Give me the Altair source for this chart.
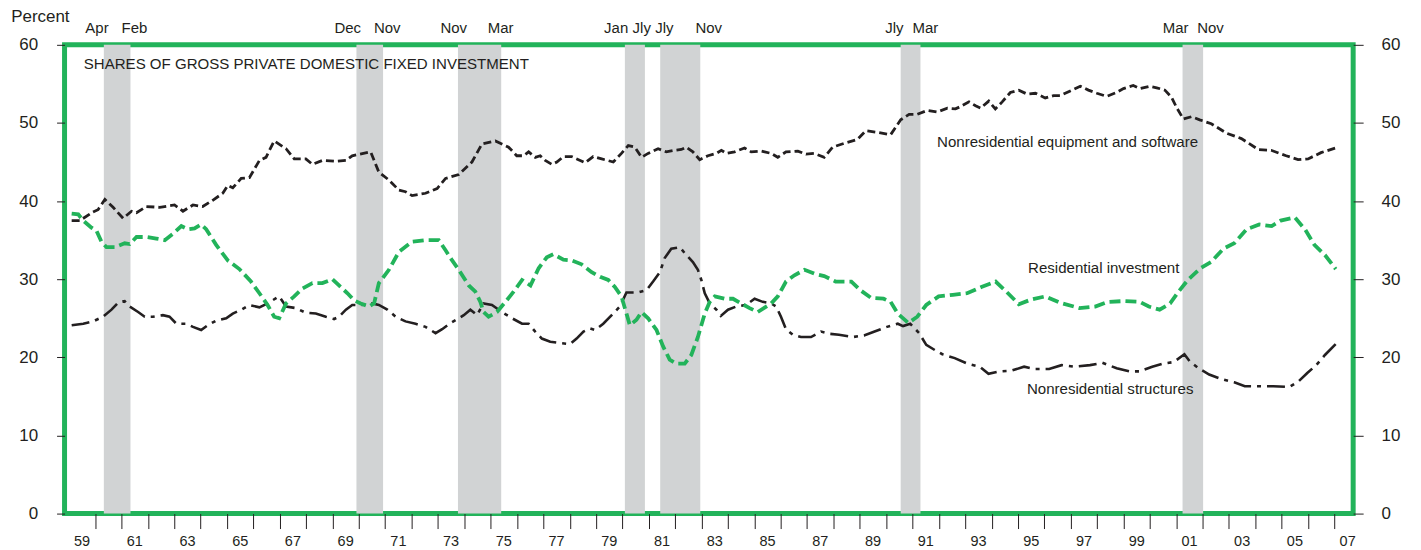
import altair as alt
import pandas as pd

# ---------------- data ----------------
eq_year = [1959.11, 1959.42, 1959.92, 1960.11, 1960.37, 1960.68, 1961.06, 1961.38, 1961.57, 1961.94,
           1962.45, 1963.01, 1963.33, 1963.71, 1964.08, 1964.46, 1964.84, 1965.03, 1965.22, 1965.54,
           1965.85, 1966.23, 1966.48, 1966.79, 1967.24, 1967.55, 1967.99, 1968.24, 1968.62, 1969.13,
           1969.51, 1969.75, 1970.45, 1970.58, 1970.76, 1971.14, 1971.52, 1971.77, 1972.02, 1972.53,
           1972.97, 1973.29, 1973.79, 1974.29, 1974.67, 1975.18, 1975.68, 1975.99, 1976.25, 1976.44,
           1976.69, 1976.88, 1977.07, 1977.32, 1977.51, 1977.76, 1978.07, 1978.33, 1978.58, 1978.89,
           1979.21, 1979.65, 1979.96, 1980.22, 1980.47, 1980.72, 1980.97, 1981.35, 1981.66, 1981.98,
           1982.23, 1982.42, 1982.67, 1982.93, 1983.24, 1983.56, 1983.75, 1983.94, 1984.25, 1984.63,
           1984.88, 1985.26, 1985.64, 1985.89, 1986.20, 1986.65, 1986.96, 1987.28, 1987.65, 1987.97,
           1988.41, 1988.91, 1989.23, 1989.67, 1990.17, 1990.55, 1990.87, 1991.18, 1991.56, 1991.94,
           1992.32, 1992.63, 1992.82, 1993.14, 1993.39, 1993.58, 1993.89, 1994.14, 1994.40, 1994.71,
           1995.03, 1995.34, 1995.66, 1996.03, 1996.35, 1996.60, 1996.98, 1997.36, 1997.67, 1997.99,
           1998.36, 1998.74, 1999.00, 1999.37, 1999.63, 2000.00, 2000.26, 2000.57, 2000.82, 2001.01,
           2001.27, 2001.58, 2001.89, 2002.33, 2002.90, 2003.47, 2004.11, 2004.60, 2005.17, 2005.62,
           2006.00, 2006.49, 2007.05]
eq_val = [37.5, 37.5, 38.6, 38.9, 40.2, 39.2, 37.8, 38.7, 38.5, 39.3,
          39.2, 39.5, 38.7, 39.5, 39.3, 40.1, 41.0, 42.0, 41.7, 42.9,
          43.0, 45.2, 45.6, 47.7, 46.7, 45.4, 45.4, 44.7, 45.2, 45.1,
          45.2, 45.8, 46.3, 45.2, 43.7, 42.7, 41.4, 41.2, 40.7, 41.0,
          41.6, 42.9, 43.4, 45.0, 47.3, 47.7, 46.9, 45.8, 45.8, 46.3,
          45.6, 45.8, 45.2, 44.7, 45.0, 45.7, 45.7, 45.3, 44.9, 45.7,
          45.4, 45.0, 46.1, 47.1, 46.9, 45.6, 46.1, 46.7, 46.3, 46.5,
          46.6, 46.9, 46.3, 45.3, 45.8, 46.1, 46.5, 46.1, 46.3, 46.8,
          46.3, 46.4, 46.1, 45.6, 46.3, 46.4, 46.0, 46.1, 45.6, 46.9,
          47.4, 47.9, 49.0, 48.8, 48.5, 50.4, 51.1, 51.1, 51.6, 51.4,
          51.9, 51.8, 52.1, 52.7, 52.2, 51.9, 52.8, 51.8, 52.7, 53.9,
          54.2, 53.7, 53.8, 53.2, 53.5, 53.5, 54.1, 54.7, 54.2, 53.8,
          53.4, 53.9, 54.4, 54.8, 54.4, 54.7, 54.5, 54.2, 53.3, 52.0,
          50.5, 50.8, 50.4, 49.9, 48.7, 48.0, 46.6, 46.5, 45.8, 45.3,
          45.4, 46.2, 46.8]

res_year = [1959.11, 1959.36, 1959.55, 1959.86, 1960.05, 1960.24, 1960.43, 1960.74, 1961.12, 1961.31,
            1961.57, 1961.94, 1962.32, 1962.64, 1962.95, 1963.27, 1963.52, 1963.77, 1964.02, 1964.21,
            1964.59, 1965.03, 1965.47, 1965.91, 1966.23, 1966.54, 1966.79, 1966.98, 1967.24, 1967.55,
            1967.86, 1968.24, 1968.62, 1969.00, 1969.25, 1969.57, 1969.82, 1970.07, 1970.39, 1970.58,
            1970.76, 1971.14, 1971.52, 1972.02, 1972.53, 1973.03, 1973.29, 1973.54, 1973.79, 1974.17,
            1974.42, 1974.61, 1974.73, 1974.92, 1975.24, 1975.56, 1975.87, 1976.19, 1976.51, 1976.82,
            1977.13, 1977.38, 1977.76, 1978.07, 1978.45, 1978.83, 1979.15, 1979.46, 1979.71, 1979.96,
            1980.15, 1980.28, 1980.53, 1980.72, 1980.97, 1981.29, 1981.54, 1981.79, 1982.04, 1982.36,
            1982.61, 1982.86, 1983.12, 1983.31, 1983.50, 1983.87, 1984.19, 1984.50, 1984.82, 1985.13,
            1985.45, 1985.64, 1985.89, 1986.20, 1986.52, 1986.90, 1987.28, 1987.65, 1988.08, 1988.68,
            1989.02, 1989.43, 1989.90, 1990.17, 1990.44, 1990.84, 1991.18, 1991.52, 1991.99, 1992.53,
            1993.07, 1993.61, 1994.15, 1994.56, 1995.03, 1995.50, 1996.04, 1996.58, 1997.33, 1997.93,
            1998.41, 1999.01, 1999.62, 1999.96, 2000.37, 2000.77, 2001.04, 2001.44, 2001.92, 2002.32,
            2002.79, 2003.20, 2003.67, 2004.15, 2004.62, 2004.96, 2005.50, 2005.90, 2006.24, 2006.64,
            2007.05]
res_val = [38.4, 38.3, 37.5, 36.6, 36.2, 34.8, 34.1, 34.1, 34.6, 34.5,
           35.4, 35.4, 35.2, 35.0, 35.8, 36.8, 36.4, 36.5, 37.0, 36.4,
           34.4, 32.4, 31.3, 29.7, 28.2, 26.7, 25.2, 25.0, 26.9, 27.8,
           28.8, 29.5, 29.5, 30.0, 29.2, 28.2, 27.3, 26.9, 26.5, 26.9,
           29.5, 31.2, 33.5, 34.8, 35.0, 35.0, 33.7, 32.4, 31.2, 29.2,
           28.4, 27.1, 25.8, 25.2, 25.8, 27.1, 28.4, 29.9, 29.2, 31.4,
           32.8, 33.2, 32.5, 32.4, 31.9, 30.9, 30.3, 29.9, 29.0, 27.8,
           25.6, 24.1, 24.8, 25.8, 25.0, 23.5, 21.4, 19.7, 19.2, 19.2,
           20.3, 22.6, 25.6, 27.1, 27.8, 27.5, 27.5, 26.9, 26.3, 25.8,
           26.5, 26.9, 27.8, 29.7, 30.5, 31.2, 30.7, 30.4, 29.7, 29.7,
           28.6, 27.6, 27.5, 27.1, 25.6, 24.4, 25.2, 26.7, 27.8, 28.0,
           28.2, 29.0, 29.7, 28.4, 26.8, 27.4, 27.8, 27.0, 26.3, 26.5,
           27.1, 27.2, 27.1, 26.5, 26.1, 26.9, 28.2, 29.9, 31.4, 32.2,
           33.9, 34.6, 36.4, 37.0, 36.8, 37.5, 37.9, 36.3, 34.4, 33.1,
           31.3]

str_year = [1959.11, 1959.55, 1959.92, 1960.30, 1960.62, 1960.87, 1961.12, 1961.31, 1961.63, 1961.88,
            1962.19, 1962.57, 1962.82, 1963.08, 1963.46, 1963.71, 1964.02, 1964.27, 1964.59, 1964.97,
            1965.22, 1965.54, 1965.85, 1966.23, 1966.54, 1966.73, 1966.98, 1967.24, 1967.61, 1967.99,
            1968.37, 1968.75, 1969.06, 1969.25, 1969.51, 1969.75, 1970.07, 1970.51, 1970.76, 1971.08,
            1971.40, 1971.77, 1972.15, 1972.53, 1972.91, 1973.16, 1973.48, 1973.79, 1973.98, 1974.23,
            1974.48, 1974.73, 1975.05, 1975.43, 1975.81, 1976.19, 1976.44, 1976.69, 1976.94, 1977.26,
            1977.70, 1978.01, 1978.26, 1978.52, 1978.77, 1978.96, 1979.27, 1979.59, 1979.90, 1980.15,
            1980.59, 1980.91, 1981.16, 1981.42, 1981.60, 1981.85, 1982.17, 1982.42, 1982.67, 1982.86,
            1982.99, 1983.12, 1983.31, 1983.56, 1983.73, 1984.00, 1984.31, 1984.69, 1985.01, 1985.32,
            1985.64, 1985.83, 1986.01, 1986.20, 1986.46, 1986.77, 1987.15, 1987.53, 1987.88, 1988.21,
            1988.75, 1989.16, 1989.56, 1990.03, 1990.44, 1990.64, 1990.91, 1991.25, 1991.52, 1991.86,
            1992.13, 1992.60, 1993.07, 1993.55, 1993.88, 1994.29, 1994.76, 1995.23, 1995.64, 1996.18,
            1996.65, 1997.12, 1997.73, 1998.20, 1998.74, 1999.22, 1999.62, 2000.09, 2000.50, 2000.91,
            2001.31, 2001.51, 2001.85, 2002.25, 2002.73, 2003.20, 2003.60, 2004.14, 2004.68, 2005.29,
            2005.63, 2005.97, 2006.31, 2006.64, 2007.05]
str_val = [24.1, 24.3, 24.6, 25.2, 26.1, 27.0, 27.2, 26.5, 25.8, 25.2,
           25.2, 25.4, 25.2, 24.3, 24.3, 23.9, 23.5, 24.1, 24.7, 25.0,
           25.6, 26.1, 26.7, 26.4, 26.9, 27.3, 27.8, 26.5, 26.3, 25.7,
           25.6, 25.2, 24.9, 25.2, 26.1, 26.7, 26.7, 26.9, 26.7, 26.1,
           25.2, 24.6, 24.3, 23.9, 23.1, 23.6, 24.4, 25.0, 25.4, 26.1,
           25.4, 26.9, 26.7, 25.8, 25.0, 24.3, 24.3, 23.3, 22.4, 22.0,
           21.8, 21.7, 22.4, 23.3, 23.7, 23.5, 24.3, 25.4, 26.5, 28.3,
           28.3, 28.6, 29.7, 30.9, 32.7, 33.9, 34.1, 33.1, 32.2, 31.2,
           29.9, 28.2, 26.9, 26.1, 25.3, 26.1, 26.5, 26.7, 27.5, 27.1,
           26.9, 26.5, 25.2, 23.6, 22.9, 22.6, 22.6, 23.3, 23.0, 22.9,
           22.6, 22.8, 23.3, 23.9, 24.3, 24.0, 24.3, 23.1, 21.6, 20.9,
           20.4, 19.9, 19.2, 18.8, 17.9, 18.2, 18.3, 18.8, 18.5, 18.5,
           19.0, 18.8, 19.0, 19.3, 18.6, 18.2, 18.2, 18.8, 19.2, 19.4,
           20.4, 19.5, 18.6, 17.8, 17.2, 16.8, 16.3, 16.3, 16.3, 16.2,
           16.9, 18.0, 19.0, 20.3, 21.7]

rec_start = [1960.33, 1969.91, 1973.76, 1980.09, 1981.43, 1990.55, 2001.24]
rec_end = [1961.34, 1970.92, 1975.40, 1980.85, 1982.95, 1991.30, 2002.02]
rec_labels = ["Apr", "Feb", "Dec", "Nov", "Nov", "Mar", "Jan", "Jly", "Jly", "Nov",
              "Jly", "Mar", "Mar", "Nov"]
rec_label_x = [1960.07, 1961.49, 1969.58, 1971.08, 1973.60, 1975.38, 1979.76, 1980.73,
               1981.59, 1983.27, 1990.31, 1991.49, 2000.98, 2002.30]

x_tick_years = list(range(1960, 2008))
x_label_years = list(range(1959, 2008, 2))
x_labels = ["59", "61", "63", "65", "67", "69", "71", "73", "75", "77", "79", "81", "83",
            "85", "87", "89", "91", "93", "95", "97", "99", "01", "03", "05", "07"]
y_ticks = [0, 10, 20, 30, 40, 50, 60]

ann_text = ["SHARES OF GROSS PRIVATE DOMESTIC FIXED INVESTMENT",
            "Nonresidential equipment and software",
            "Residential investment",
            "Nonresidential structures"]
ann_x = [1959.57, 1991.93, 1995.38, 1995.34]
ann_y = [57.5, 47.6, 31.4, 16.0]

# ---------------- styling ----------------
GREEN = "#22B35A"
INK = "#231F20"
GRAY = "#D1D3D4"
REG = "Liberation Sans"
W, H = 1292, 470

xs = alt.Scale(domain=[1958.84, 2007.71], nice=False, zero=False)
ys = alt.Scale(domain=[0, 60], nice=False, zero=False)

eq_df = pd.DataFrame({"year": eq_year, "value": eq_val})
res_df = pd.DataFrame({"year": res_year, "value": res_val})
str_df = pd.DataFrame({"year": str_year, "value": str_val})
rec_df = pd.DataFrame({"start": rec_start, "end": rec_end})
rec_lab_df = pd.DataFrame({"x": rec_label_x, "label": rec_labels})
xlab_df = pd.DataFrame({"x": [y + 0.5 for y in x_label_years], "label": x_labels})
ann_df = pd.DataFrame({"x": ann_x, "y": ann_y, "label": ann_text})


def x_axis():
    return alt.Axis(values=x_tick_years, labels=False, domain=False, grid=False,
                    ticks=True, tickSize=15, tickColor=INK, tickWidth=1, title=None,
                    orient="bottom")


bands = alt.Chart(rec_df).mark_rect(color=GRAY).encode(
    x=alt.X("start:Q", scale=xs, axis=x_axis()),
    x2="end:Q",
    y=alt.value(0),
    y2=alt.value(H),
)

left_axis = alt.Axis(values=y_ticks, orient="left", domain=False, grid=False,
                     tickSize=8, tickColor=INK, labelPadding=19, labelFont=REG,
                     labelFontSize=17, labelColor=INK, labelBaseline="middle",
                     title="Percent", titleAngle=0, titleAlign="left",
                     titleBaseline="middle", titleX=-54, titleY=-28,
                     titleFont=REG, titleFontSize=17, titleFontWeight="normal",
                     titleColor=INK)
right_axis = alt.Axis(values=y_ticks, orient="right", domain=False, grid=False,
                      tickSize=10, tickColor=INK, labelPadding=18, labelFont=REG,
                      labelFontSize=17, labelColor=INK, labelBaseline="middle",
                      title=None)

structures = alt.Chart(str_df).mark_line(
    color=INK, strokeWidth=2.6, strokeDash=[18, 6, 4, 6]).encode(
    x=alt.X("year:Q", scale=xs, axis=x_axis()),
    y=alt.Y("value:Q", scale=ys, axis=left_axis),
)
equipment = alt.Chart(eq_df).mark_line(
    color=INK, strokeWidth=2.8, strokeDash=[8, 4]).encode(
    x=alt.X("year:Q", scale=xs, axis=x_axis()),
    y=alt.Y("value:Q", scale=ys, axis=right_axis),
)
residential = alt.Chart(res_df).mark_line(
    color=GREEN, strokeWidth=3.8, strokeDash=[11, 5]).encode(
    x=alt.X("year:Q", scale=xs, axis=x_axis()),
    y=alt.Y("value:Q", scale=ys, axis=None),
)

xlabels = alt.Chart(xlab_df).mark_text(
    font=REG, fontSize=14.5, color=INK, baseline="middle", align="center").encode(
    x=alt.X("x:Q", scale=xs, axis=x_axis()),
    y=alt.value(H + 29),
    text="label:N",
)
reclabels = alt.Chart(rec_lab_df).mark_text(
    font=REG, fontSize=15, color=INK, baseline="middle", align="center").encode(
    x=alt.X("x:Q", scale=xs, axis=x_axis()),
    y=alt.value(-17),
    text="label:N",
)
annotations = alt.Chart(ann_df).mark_text(
    font=REG, fontSize=15.1, color=INK, baseline="middle", align="left").encode(
    x=alt.X("x:Q", scale=xs, axis=x_axis()),
    y=alt.Y("y:Q", scale=ys, axis=None),
    text="label:N",
)

chart = alt.layer(
    bands, structures, residential, equipment, xlabels, reclabels, annotations
).resolve_scale(y="independent").properties(
    width=W, height=H,
    padding={"left": 56.7, "top": 36.2, "right": 60, "bottom": 42},
    autosize=alt.AutoSizeParams(type="none"),
).configure_view(stroke=GREEN, strokeWidth=5)

chart.save("out.html", embed_options={"renderer": "svg", "actions": False})
